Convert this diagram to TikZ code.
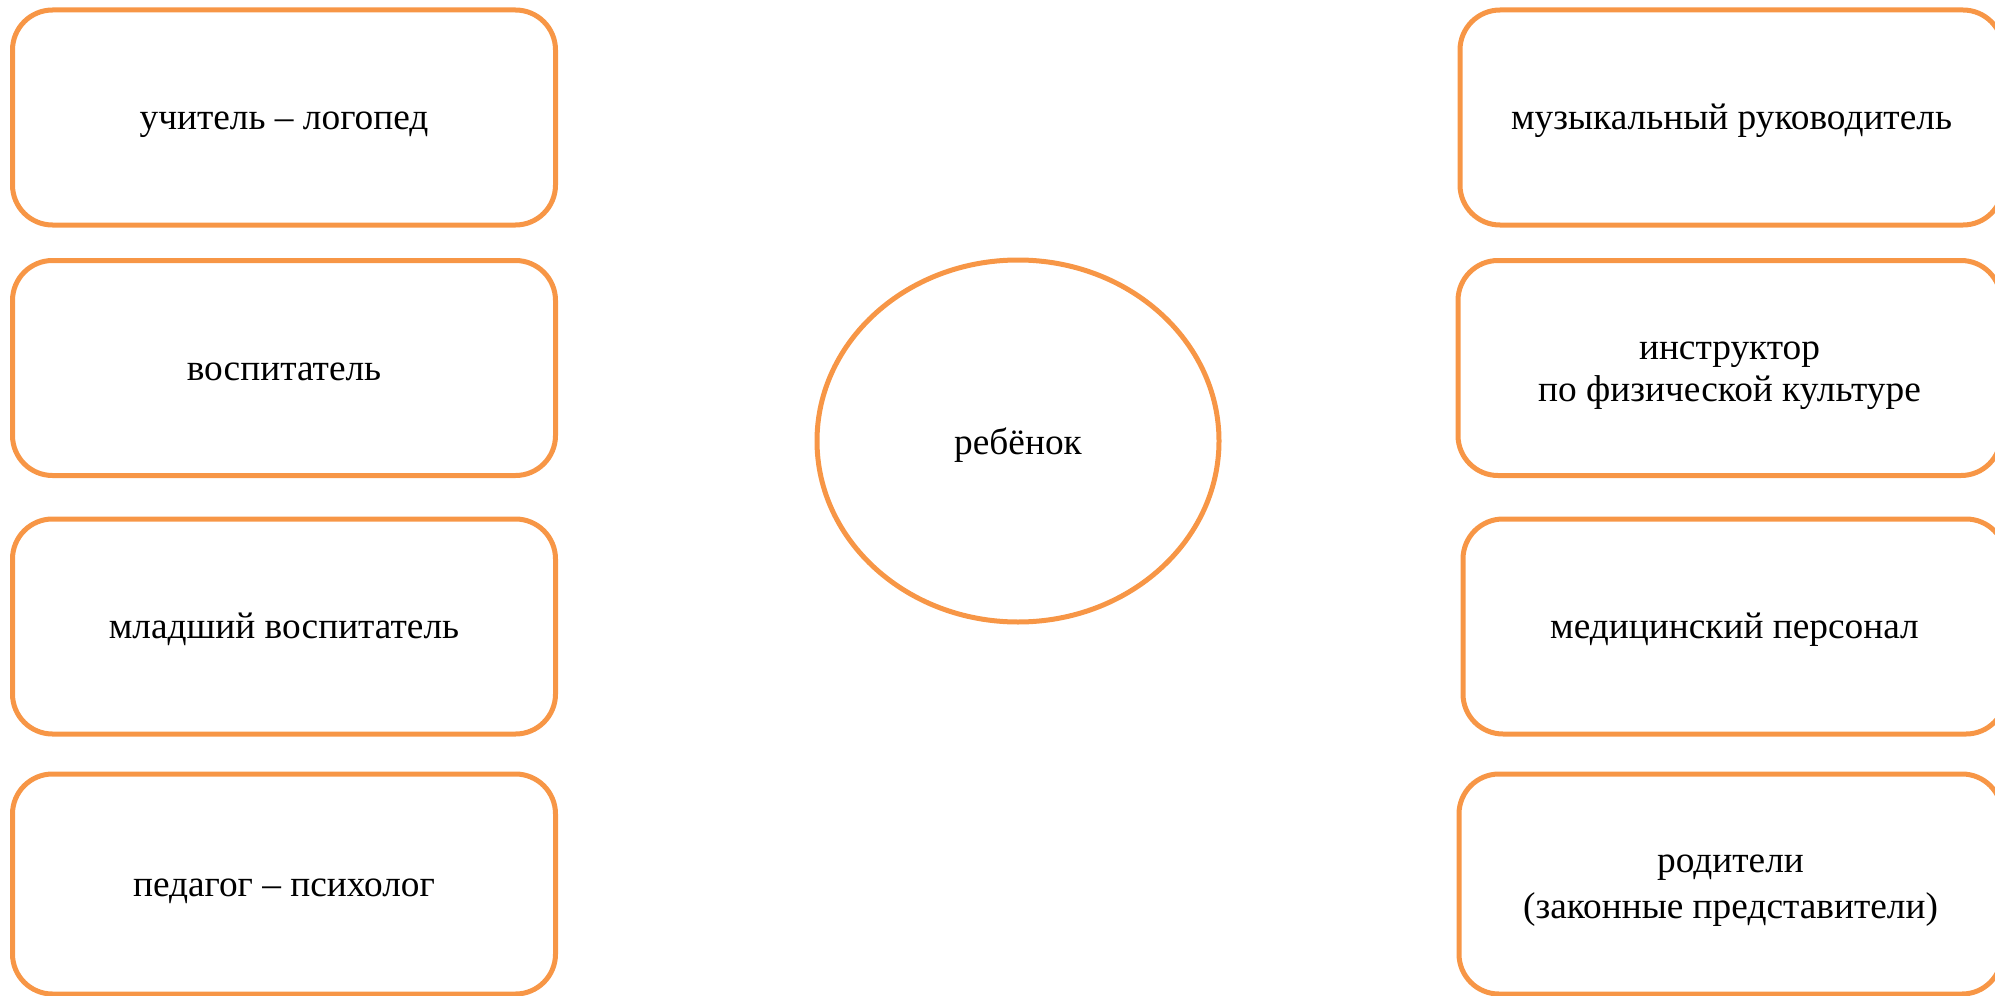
\documentclass[tikz,border=0pt]{standalone}
\usepackage{fontspec}
\setmainfont{Liberation Serif}
\usetikzlibrary{shapes.geometric}
\definecolor{boxorange}{HTML}{F79646}
\newcommand\twolines[1]{\begin{tabular}[t]{@{}c@{}}#1\end{tabular}}
\begin{document}
\begin{tikzpicture}[x=0.5pt,y=-0.5pt,
  rolebox/.style={draw=boxorange, line width=2.5pt, rounded corners=20pt,
    minimum width=271.5pt, minimum height=107.5pt, align=center,
    font=\fontsize{18.67}{21.47}\selectfont, inner sep=0pt,
    text height=16.6pt, text depth=4.3pt},
  twobox/.style={rolebox, text depth=25.6pt},
  childnode/.style={draw=boxorange, line width=2.5pt, ellipse,
    minimum width=201pt, minimum height=181pt, inner sep=0pt,
    font=\fontsize{18.67}{21.47}\selectfont,
    text height=16.6pt, text depth=3pt}]
\useasboundingbox (0,0) rectangle (1995,995);
\clip (0,0) rectangle (1995,995);
\node[rolebox] (l1) at (284,117.5) {учитель – логопед};
\node[rolebox] (l2) at (284,368) {воспитатель};
\node[rolebox] (l3) at (284,626.5) {младший воспитатель};
\node[rolebox, minimum height=110pt] (l4) at (284,884) {педагог – психолог};
\node[rolebox] (r1) at (1731.5,117.5) {музыкальный руководитель};
\node[twobox] (r2) at (1729.5,368) {\twolines{инструктор\\по физической культуре}};
\node[rolebox] (r3) at (1734.5,626.5) {медицинский персонал};
\node[twobox, minimum height=110pt, text depth=28.6pt] (r4) at (1730.5,884)
  {\twolines{родители\\[1.9pt](законные представители)}};
\node[childnode] (child) at (1018,441) {ребёнок};
\end{tikzpicture}
\end{document}
